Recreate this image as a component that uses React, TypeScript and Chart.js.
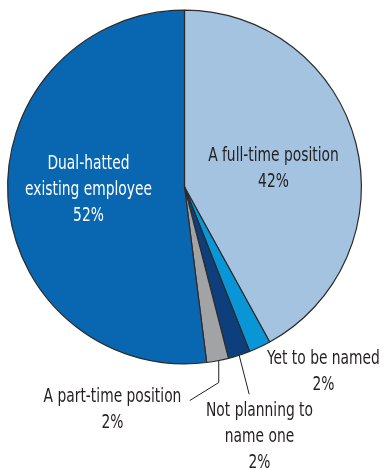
import React, { useEffect, useRef } from "react";
import { Chart, registerables } from "chart.js";
Chart.register(...registerables);

const categories = [
  "A full-time position",
  "Yet to be named",
  "Not planning to name one",
  "A part-time position",
  "Dual-hatted existing employee",
];
const values = [42, 2, 2, 2, 52];
const colors = ["#a3c3e0", "#0996d6", "#0c3f7c", "#a2a3a5", "#0967b2"];
const pctLabels = ["42%", "2%", "2%", "2%", "52%"];

const FONT = '"DejaVu Sans Condensed", "Liberation Sans Narrow", sans-serif';

const labelPlugin = {
  id: "labels",
  afterDraw(chart: any) {
    const ctx = chart.ctx;
    const meta = chart.getDatasetMeta(0);
    const a = meta.data;
    const cx = a[0].x;
    const cy = a[0].y;
    const r = a[0].outerRadius;
    const pt = (i: number, f: number, rr: number) => {
      const arc = a[i];
      const ang = arc.startAngle + (arc.endAngle - arc.startAngle) * f;
      return [cx + Math.cos(ang) * rr, cy + Math.sin(ang) * rr];
    };
    ctx.save();
    ctx.font = `19px ${FONT}`;
    ctx.textAlign = "center";
    ctx.textBaseline = "middle";
    const lines = (arr: string[], x: number, y: number, color: string) => {
      ctx.fillStyle = color;
      arr.forEach((t, k) => {
        ctx.save();
        ctx.translate(x, y + k * 26);
        ctx.scale(0.81, 1);
        ctx.fillText(t, 0, 0);
        ctx.restore();
      });
    };
    const dark = "#231f20";
    lines(["Dual-hatted", "existing employee", pctLabels[4]], cx - 96, cy - 23, "#ffffff");
    lines(["A full-time position", pctLabels[0]], cx + 89, cy - 31, dark);
    lines(["Yet to be named", pctLabels[1]], cx + 139, cy + 172, dark);
    lines(["Not planning to", "name one", pctLabels[2]], cx + 75, cy + 224, dark);
    lines(["A part-time position", pctLabels[3]], cx - 72, cy + 210, dark);

    ctx.strokeStyle = "#231f20";
    ctx.lineWidth = 1;
    const [px, py] = pt(3, 0.45, r);
    ctx.beginPath();
    ctx.moveTo(px, py);
    ctx.lineTo(px, py + 22);
    ctx.lineTo(px - 29, py + 40);
    ctx.stroke();
    const [nx, ny] = pt(2, 0.5, r);
    ctx.beginPath();
    ctx.moveTo(nx, ny);
    ctx.lineTo(nx + 10, ny + 39);
    ctx.stroke();
    ctx.restore();
  },
};

export default function App() {
  const ref = useRef<HTMLCanvasElement | null>(null);
  useEffect(() => {
    document.body.style.margin = "0";
    const chart = new Chart(ref.current!, {
      type: "pie",
      data: {
        labels: categories,
        datasets: [
          {
            data: values,
            backgroundColor: colors,
            borderColor: "#2b2b2b",
            borderWidth: 1.2,
          },
        ],
      },
      options: {
        responsive: false,
        animation: false,
        layout: { padding: { left: 7, right: 21, top: 9, bottom: 104 } },
        plugins: { legend: { display: false }, tooltip: { enabled: false } },
      },
      plugins: [labelPlugin],
    });
    return () => chart.destroy();
  }, []);
  return (
    <div style={{ position: "absolute", left: 0, top: 0, width: 383, height: 469, background: "#fff" }}>
      <canvas ref={ref} width={383} height={469} />
    </div>
  );
}
